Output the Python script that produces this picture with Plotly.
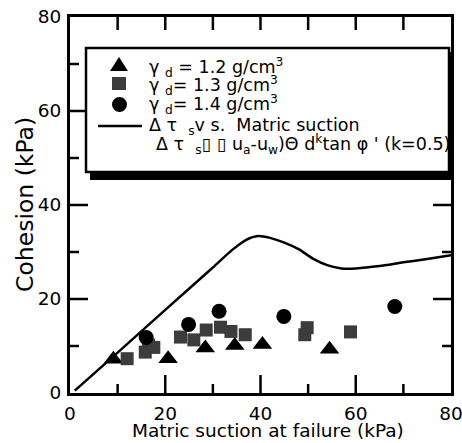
import plotly.graph_objects as go

# ---------------- Data ----------------
tri_x = [9.1, 20.6, 28.4, 34.6, 40.4, 54.5]
tri_y = [7.2, 7.3, 9.6, 10.1, 10.3, 9.3]

sq_x = [12.0, 15.8, 16.5, 17.6, 23.2, 26.0, 28.6, 31.6, 33.8, 36.8, 49.3, 49.8, 58.9]
sq_y = [7.3, 8.7, 10.2, 9.7, 11.9, 11.3, 13.4, 14.0, 13.1, 12.4, 12.4, 13.9, 13.0]

cir_x = [16.0, 24.9, 31.3, 44.9, 68.2]
cir_y = [11.8, 14.6, 17.4, 16.3, 18.4]

line_x = [1, 10, 20, 30, 34, 37, 39.5, 42, 45, 48, 51, 54, 57, 60, 65, 70, 75, 80]
line_y = [0.5, 8.6, 17.7, 26.7, 30.4, 32.6, 33.4, 33.0, 32.0, 30.6, 28.6, 27.2, 26.5, 26.5, 27.0, 27.8, 28.5, 29.3]

S = "\u00a0"
legend_labels = [
    f"γ{S}<sub>d</sub>{S}={S}1.2{S}g/cm<sup>3</sup>",
    f"γ{S}<sub>d</sub>={S}1.3{S}g/cm<sup>3</sup>",
    f"γ{S}<sub>d</sub>={S}1.4{S}g/cm<sup>3</sup>",
    f"Δ{S}τ{S}{S}<sub>s</sub>v{S}s.{S}{S}Matric{S}suction",
    f"Δ{S}τ{S}{S}<sub>s</sub>▯{S}▯{S}u<sub>a</sub>-u<sub>w</sub>)Θ{S}d<sup>k</sup>tan{S}φ{S}'{S}(k=0.5)",
]

x_title = "Matric suction at failure (kPa)"
y_title = "Cohesion (kPa)"

major_ticks = [0, 20, 40, 60, 80]
inner_major = [20, 40, 60]
minor_ticks = [10, 30, 50, 70]
top_ticks = [10, 20, 30, 40, 50, 60, 70]
AX_MIN, AX_MAX = 0, 80

FONT = "DejaVu Sans, Verdana, sans-serif"
W, H = 462, 443
ML, MR, MT, MB = 70, 11, 17, 50
PW, PH = W - ML - MR, H - MT - MB
KX = (AX_MAX - AX_MIN) / PW   # data units per pixel
KY = (AX_MAX - AX_MIN) / PH


def px(xp):
    return (xp - ML) / PW


def py(yp):
    return (H - MB - yp) / PH


fig = go.Figure()
fig.add_trace(go.Scatter(x=tri_x, y=tri_y, mode="markers",
                         marker=dict(symbol="triangle-up", size=17, color="black")))
fig.add_trace(go.Scatter(x=sq_x, y=sq_y, mode="markers",
                         marker=dict(symbol="square", size=13, color="#3c3c3c")))
fig.add_trace(go.Scatter(x=cir_x, y=cir_y, mode="markers",
                         marker=dict(symbol="circle", size=15, color="black")))
fig.add_trace(go.Scatter(x=line_x, y=line_y, mode="lines",
                         line=dict(color="black", width=2.5, shape="spline", smoothing=0.6)))

# inside tick marks drawn as short line segments on the axes
tx, ty = [], []


def xticks(vals, length_px, at, direction):
    for v in vals:
        tx.extend([v, v, None])
        ty.extend([at, at + direction * length_px * KY, None])


def yticks(vals, length_px, at, direction):
    for v in vals:
        tx.extend([at, at + direction * length_px * KX, None])
        ty.extend([v, v, None])


xticks(inner_major, 18, AX_MIN, 1)
xticks(minor_ticks, 9, AX_MIN, 1)
xticks(top_ticks, 13, AX_MAX, -1)
yticks(inner_major, 18, AX_MIN, 1)
yticks(minor_ticks, 9, AX_MIN, 1)
yticks(inner_major, 18, AX_MAX, -1)
yticks(minor_ticks, 9, AX_MAX, -1)
fig.add_trace(go.Scatter(x=tx, y=ty, mode="lines", hoverinfo="skip", connectgaps=False,
                         line=dict(color="black", width=2.5)))

tickfont = dict(family=FONT, size=18.5, color="black")
axis_base = dict(range=[AX_MIN, AX_MAX], showline=True, linewidth=3, linecolor="black",
                 mirror=True, showgrid=False, zeroline=False, ticks="", tickmode="array",
                 tickvals=major_ticks, ticktext=[str(v) for v in major_ticks],
                 ticklabeloverflow="allow", tickfont=tickfont, automargin=False)
fig.update_xaxes(**axis_base, ticklabelstandoff=2)
fig.update_yaxes(**axis_base, ticklabelstandoff=2)

# axis titles
fig.add_annotation(xref="paper", yref="paper", x=px(268), y=py(431),
                   xanchor="center", yanchor="middle", showarrow=False,
                   text=x_title, font=dict(family=FONT, size=18.5, color="black"))
fig.add_annotation(xref="paper", yref="paper", x=px(25), y=py(205),
                   xanchor="center", yanchor="middle", showarrow=False, textangle=-90,
                   text=y_title, font=dict(family=FONT, size=23.5, color="black"))

# ---------- legend box (shadow + box) ----------
fig.add_shape(type="rect", xref="paper", yref="paper",
              x0=px(90), x1=px(452), y0=py(180), y1=py(52),
              fillcolor="black", line=dict(width=0), layer="above")
fig.add_shape(type="rect", xref="paper", yref="paper",
              x0=px(86), x1=px(449), y0=py(172), y1=py(48),
              fillcolor="white", line=dict(color="black", width=2.5), layer="above")

# legend symbols
fig.add_shape(type="path", xref="paper", yref="paper", layer="above",
              path=f"M {px(110)} {py(71)} L {px(128)} {py(71)} L {px(119)} {py(57)} Z",
              fillcolor="black", line=dict(width=0))
fig.add_shape(type="rect", xref="paper", yref="paper", layer="above",
              x0=px(112), x1=px(126), y0=py(90), y1=py(77),
              fillcolor="#3c3c3c", line=dict(width=0))
fig.add_shape(type="circle", xref="paper", yref="paper", layer="above",
              x0=px(112), x1=px(127), y0=py(112), y1=py(97),
              fillcolor="black", line=dict(width=0))
fig.add_shape(type="line", xref="paper", yref="paper", layer="above",
              x0=px(98), x1=px(142), y0=py(126), y1=py(126),
              line=dict(color="black", width=2.5))

label_pos = [(147, 67), (147, 86), (147, 104), (147, 126), (154, 144)]
for lab, (lx, ly) in zip(legend_labels, label_pos):
    fig.add_annotation(xref="paper", yref="paper", x=px(lx), y=py(ly),
                       xanchor="left", yanchor="middle", showarrow=False,
                       text=lab, font=dict(family=FONT, size=17.5, color="black"))

fig.update_layout(
    width=W, height=H,
    margin=dict(l=ML, r=MR, t=MT, b=MB, autoexpand=False),
    paper_bgcolor="white", plot_bgcolor="white",
    font=dict(family=FONT, color="black"),
    showlegend=False,
)

fig.write_html("out.html")
